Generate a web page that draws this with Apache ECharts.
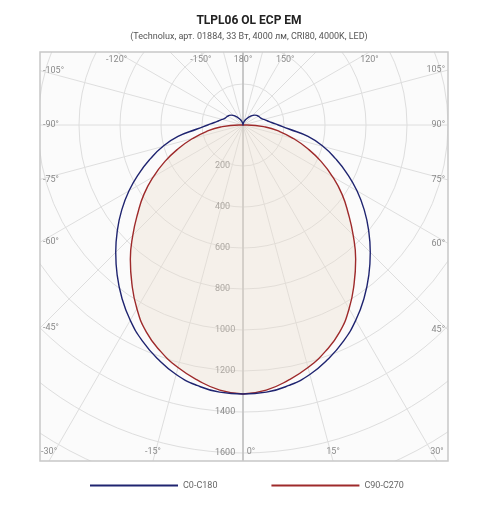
<!DOCTYPE html>
<html><head><meta charset="utf-8">
<script src="https://cdn.jsdelivr.net/npm/echarts@6/dist/echarts.min.js"></script>
<style>html,body{margin:0;padding:0;background:#fff}#c{width:500px;height:513px}</style>
</head><body><div id="c"></div>
<script>
const angles = [0,5,10,15,20,25,30,35,40,45,50,55,60,65,70,75,80,85,90,95,100,105,110,115,120,125,130,140,150,160,170,180];
const c0c180 = [1312,1308,1290,1260,1215,1162,1100,1030,955,878,800,722,642,560,480,405,322,225,172,140,120,105,95,90,86,82,75,55,35,20,8,0];
const c90c270 = [1312,1298,1265,1225,1175,1115,1035,945,855,760,670,590,505,420,335,255,180,110,20,0,0,0,0,0,0,0,0,0,0,0,0,0];
const radiusTicks = [200,400,600,800,1000,1200,1400,1600];
const angleTickLabels = [-105,-90,-75,-60,-45,-30,-15,0,15,30,45,60,75,90,105,120,150,180,-150,-120];

function mirror(vals){
  const pts=[];
  for(let i=0;i<angles.length;i++) pts.push([vals[i],angles[i]]);
  for(let i=angles.length-2;i>=0;i--) pts.push([vals[i],360-angles[i]]);
  return pts;
}
const cx=243, cy=125, R=410, L=40, T=52, Rr=448, B=461;
const chart=echarts.init(document.getElementById('c'));
const g=[];
g.push({type:'rect',shape:{x:L,y:T,width:Rr-L,height:B-T},style:{fill:'#fbfbfb'},z:-10,silent:true});
g.push({type:'line',shape:{x1:cx,y1:T,x2:cx,y2:cy},style:{stroke:'#bdbdbd',lineWidth:1.5},z:1});
g.push({type:'rect',shape:{x:0,y:0,width:500,height:T},style:{fill:'#fff'},z:50});
g.push({type:'rect',shape:{x:0,y:B,width:500,height:513-B},style:{fill:'#fff'},z:50});
g.push({type:'rect',shape:{x:0,y:0,width:L,height:513},style:{fill:'#fff'},z:50});
g.push({type:'rect',shape:{x:Rr,y:0,width:500-Rr,height:513},style:{fill:'#fff'},z:50});
g.push({type:'rect',shape:{x:L,y:T,width:Rr-L,height:B-T},style:{fill:'none',stroke:'#c8c8c8',lineWidth:1.5},z:51});
angleTickLabels.forEach(a=>{
  const t=a*Math.PI/180, dx=Math.sin(t), dy=Math.cos(t);
  let s=Infinity;
  if(dx>1e-9) s=Math.min(s,(Rr-cx)/dx); if(dx<-1e-9) s=Math.min(s,(L-cx)/dx);
  if(dy>1e-9) s=Math.min(s,(B-cy)/dy); if(dy<-1e-9) s=Math.min(s,(T-cy)/dy);
  let x=cx+dx*s, y=cy+dy*s, align='center', vb='middle';
  if(Math.abs(x-L)<1){x=L+3;align='left';}
  else if(Math.abs(x-Rr)<1){x=Rr-3;align='right';}
  if(Math.abs(y-B)<1){y=B-9;} else if(Math.abs(y-T)<1){y=T+8;}
  if(a===0){x=cx+8;}
  g.push({type:'text',x:x,y:y,z:60,style:{text:a+'°',fill:'#8a8a8a',font:'9px Roboto',align:align,verticalAlign:vb}});
});
chart.setOption({
  animation:false,
  title:{text:'TLPL06 OL ECP EM',subtext:'(Technolux, арт. 01884, 33 Вт, 4000 лм, CRI80, 4000K, LED)',left:244,textAlign:'center',top:10,itemGap:5,z:100,
    textStyle:{fontFamily:'Roboto',fontSize:12,fontWeight:'bold',color:'#222'},
    subtextStyle:{fontFamily:'Roboto',fontSize:9,color:'#555'}},
  legend:{left:85,top:476,itemWidth:88,itemHeight:2,itemGap:54,icon:'rect',z:100,
    textStyle:{fontFamily:'Roboto',fontSize:9,color:'#666'},data:['C0-C180','C90-C270']},
  polar:{center:[cx,cy],radius:R},
  angleAxis:{type:'value',min:0,max:360,interval:15,startAngle:270,clockwise:false,
    axisLine:{show:false},axisTick:{show:false},axisLabel:{show:false},
    splitLine:{lineStyle:{color:'#dedede',width:1}}},
  radiusAxis:{type:'value',min:0,max:2000,interval:200,
    axisLine:{lineStyle:{color:'#bdbdbd',width:1.5}},axisTick:{show:false},
    axisLabel:{color:'#8a8a8a',fontFamily:'Roboto',fontSize:9,margin:-28,verticalAlign:'middle',
      formatter:v=>radiusTicks.indexOf(v)>=0?String(v):''},
    splitLine:{lineStyle:{color:'#dedede',width:1}}},
  series:[
    {name:'C90-C270',type:'line',coordinateSystem:'polar',data:mirror(c90c270),symbol:'none',smooth:0.5,
      lineStyle:{color:'#9e2a2b',width:1.4},itemStyle:{color:'#9e2a2b'},areaStyle:{color:'rgba(235,222,205,0.5)'},z:3},
    {name:'C0-C180',type:'line',coordinateSystem:'polar',data:mirror(c0c180),symbol:'none',smooth:0.5,
      lineStyle:{color:'#1f2470',width:1.4},itemStyle:{color:'#1f2470'},z:4}
  ],
  graphic:{elements:g}
});
</script></body></html>
